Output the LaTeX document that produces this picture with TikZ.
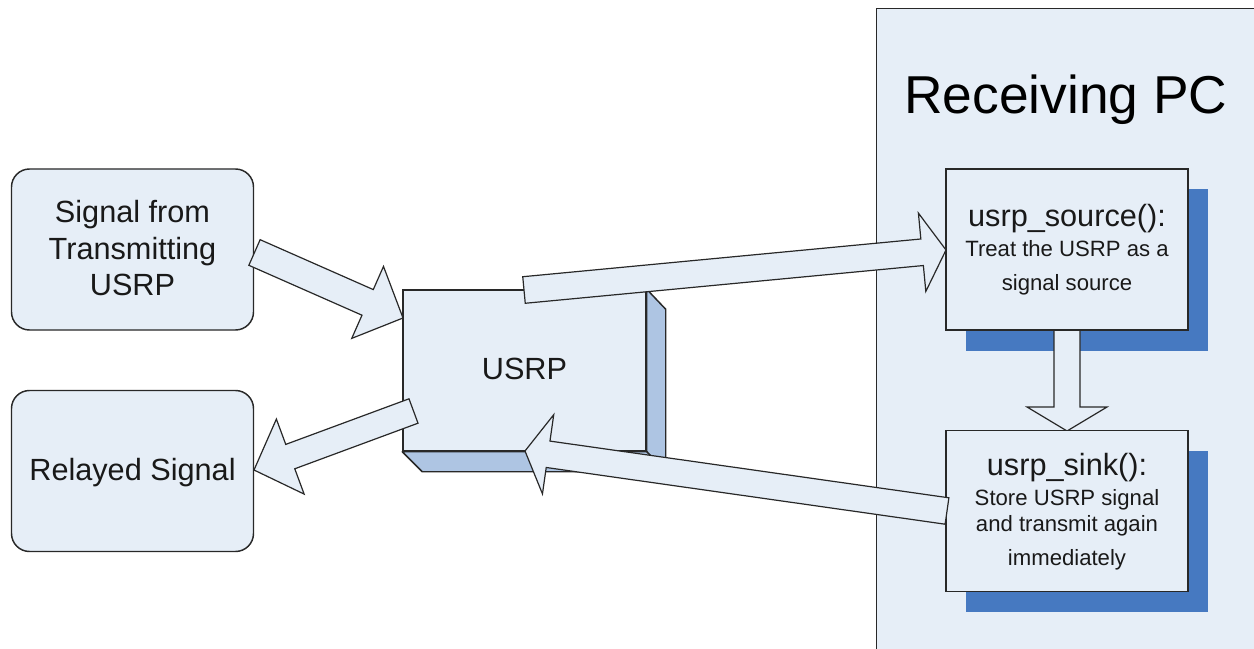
\documentclass[tikz,border=0pt]{standalone}
\usepackage{fontspec}
\setmainfont{Liberation Sans}
\usetikzlibrary{calc}
\definecolor{boxfill}{RGB}{230,238,247}
\definecolor{shadowblue}{RGB}{70,121,193}
\definecolor{sideblue}{RGB}{174,197,227}
\definecolor{edgec}{RGB}{40,40,40}
\definecolor{textc}{RGB}{25,25,25}
\tikzset{
  box/.style={draw=edgec, fill=boxfill, line width=1.1pt, inner sep=0pt,
              minimum width=181.5pt, minimum height=120.75pt},
  rbox/.style={box, rounded corners=13.5pt},
  shadowbox/.style={fill=shadowblue, inner sep=0pt,
              minimum width=181.5pt, minimum height=120.75pt},
  side/.style={draw=edgec, fill=sideblue, line width=1.1pt, line join=round},
  barrow/.style={draw=edgec, fill=boxfill, line width=0.9pt, line join=miter},
  big/.style={font=\fontsize{23}{27}\selectfont, text=textc, inner sep=0pt, anchor=base},
  small/.style={font=\fontsize{16.6}{20}\selectfont, text=textc, inner sep=0pt, anchor=base},
  huge/.style={font=\fontsize{40}{44}\selectfont, text=black, inner sep=0pt, anchor=base},
}
% #1 tail, #2 tip, #3 half shaft width, #4 half head width, #5 head length, #6 name
\newcommand\blockarr[6]{%
  \coordinate (#6N) at ($(#2)!#5!(#1)$);
  \draw[barrow] ($(#1)!#3!90:(#2)$) -- ($(#6N)!#3!90:(#2)$) -- ($(#6N)!#4!90:(#2)$)
     -- (#2) -- ($(#6N)!#4!-90:(#2)$) -- ($(#6N)!#3!-90:(#2)$) -- ($(#1)!#3!-90:(#2)$) -- cycle;
}
\begin{document}
\begin{tikzpicture}[x=0.75pt,y=-0.75pt]
\clip (0,0) rectangle (1254,649);
\fill[white] (0,0) rectangle (1254,649);

% Receiving PC panel
\node[box, anchor=north west, minimum width=295.5pt, minimum height=496.5pt] (pc) at (876,8) {};
\node[huge] (pcT) at (1066,114) {Receiving PC};

% shadows
\node[shadowbox] (srcS) at (1087,270) {};
\node[shadowbox] (snkS) at (1087,531.5) {};

% left boxes
\node[rbox] (sig) at (132.5,249.5) {};
\node[big] (sigA) at (132.5,223) {Signal from};
\node[big] (sigB) at (132.5,259.5) {Transmitting};
\node[big] (sigC) at (132.5,295.5) {USRP};

\node[rbox] (rel) at (132.5,471) {};
\node[big] (relT) at (132.5,480) {Relayed Signal};

% USRP 3D box
\node[box, minimum width=182.25pt] (usrp) at (524.5,370.5) {};
\draw[side] (usrp.north east) -- ++(19,20) -- ($(usrp.south east)+(19,20)$) -- (usrp.south east) -- cycle;
\draw[side] (usrp.south west) -- ++(20,20) -- ($(usrp.south east)+(19,20)$) -- (usrp.south east) -- cycle;
\node[big] (usrpT) at (524.5,379) {USRP};

% arrow down (behind boxes)
\coordinate (a5t) at (1067,330);
\coordinate (a5p) at (1067,431);
\blockarr{a5t}{a5p}{9.75pt}{30pt}{18pt}{a5}

% function boxes
\node[box] (src) at (1067,249.5) {};
\node[big] (srcT) at (1067,227) {usrp\_source():};
\node[small] (srcA) at (1067,257) {Treat the USRP as a};
\node[small] (srcB) at (1067,290.5) {signal source};

\node[box] (snk) at (1067,511) {};
\node[big] (snkT) at (1067,475) {usrp\_sink():};
\node[small] (snkA) at (1067,505) {Store USRP signal};
\node[small] (snkB) at (1067,531.5) {and transmit again};
\node[small] (snkC) at (1067,565) {immediately};

% block arrows
\coordinate (a1t) at (254.5,252.5);
\coordinate (a1p) at (403,318);
\blockarr{a1t}{a1p}{10.5pt}{29.5pt}{29pt}{a1}

\coordinate (a2t) at (524,290);
\coordinate (a2p) at (946,250);
\blockarr{a2t}{a2p}{10pt}{29.5pt}{18pt}{a2}

\coordinate (a3t) at (947,511);
\coordinate (a3p) at (525,451);
\blockarr{a3t}{a3p}{10pt}{30pt}{17.5pt}{a3}

\coordinate (a4t) at (413.5,411);
\coordinate (a4p) at (254,470);
\blockarr{a4t}{a4p}{9.75pt}{30pt}{29pt}{a4}

\end{tikzpicture}
\end{document}
